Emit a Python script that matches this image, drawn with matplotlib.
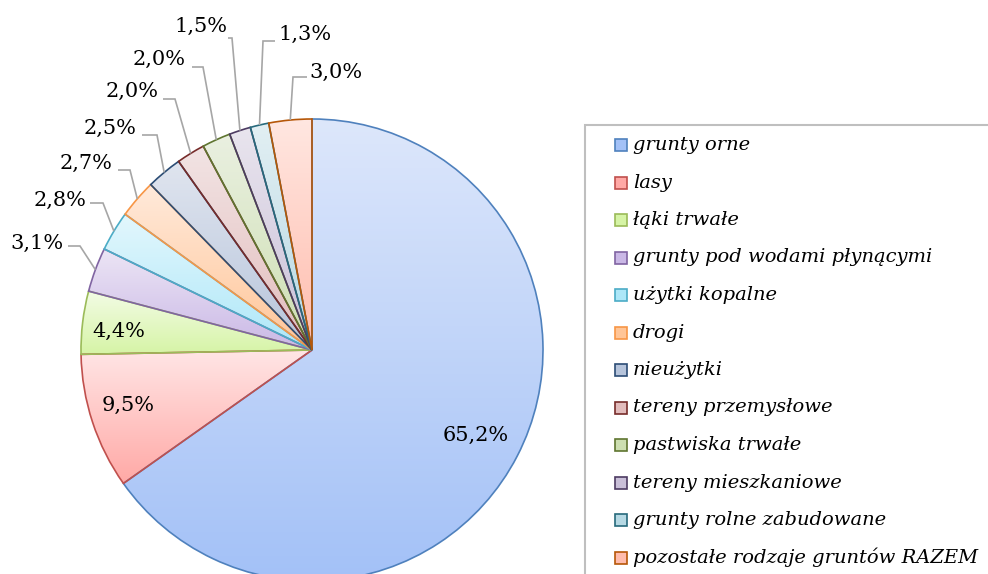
import numpy as np
import matplotlib
matplotlib.use("Agg")
import matplotlib.pyplot as plt
from matplotlib.colors import to_rgb
from matplotlib.patches import Rectangle

# ---------------- data ----------------
categories = ["grunty orne", "lasy", "łąki trwałe", "grunty pod wodami płynącymi",
              "użytki kopalne", "drogi", "nieużytki", "tereny przemysłowe",
              "pastwiska trwałe", "tereny mieszkaniowe", "grunty rolne zabudowane",
              "pozostałe rodzaje gruntów RAZEM"]
values = [65.2, 9.5, 4.4, 3.1, 2.8, 2.7, 2.5, 2.0, 2.0, 1.5, 1.3, 3.0]
value_labels = ["65,2%", "9,5%", "4,4%", "3,1%", "2,8%", "2,7%", "2,5%",
                "2,0%", "2,0%", "1,5%", "1,3%", "3,0%"]

# ---------------- styles ----------------
edge_colors = ["#4F81BD", "#C0504D", "#9BBB59", "#8064A2", "#4BACC6", "#F79646",
               "#2C4D75", "#772C2A", "#5F7530", "#4D3B62", "#276A7C", "#B65708"]
top_colors = ["#DDE7FB", "#FFE6E6", "#F3FCE6", "#ECE5F5", "#E3F7FD", "#FFEADB",
              "#E0E5EF", "#F2E4E4", "#EAF0E1", "#E9E5EE", "#E2EFF3", "#FFE7E1"]
bot_colors = ["#A3C1F7", "#FFA9A6", "#D6F4A6", "#CAB8E6", "#ADE7F8", "#FFC597",
              "#B6C4DB", "#E2BCBC", "#CDDFB1", "#C9BFD8", "#B6D9E4", "#FFBCAD"]

W, H = 988, 574
CX, CY, R = 312, 350, 231          # pie centre / radius in pixel coords (y down)

# label layout (pixel coords, y down)
inside_pos = {0: (476, 435), 1: (128, 405), 2: (119, 331)}
outside_pos = {3: ((37, 243), (80, 246), (68, 246)),
               4: ((60, 200), (103, 203), (90, 203)),
               5: ((86, 163), (130, 170), (118, 170)),
               6: ((110, 128), (157, 135), (142, 135)),
               7: ((132, 91), (175, 99), (163, 99)),
               8: ((159, 59), (203, 67), (192, 67)),
               9: ((201, 26), (232, 38), (228, 38)),
               10: ((305, 34), (263, 41), (275, 41)),
               11: ((336, 72), (293, 77), (307, 77))}

def P(x, y):
    return x, H - y

fig = plt.figure(figsize=(W / 100, H / 100), dpi=100)
ax = fig.add_axes([0, 0, 1, 1])

wedges, _ = ax.pie(values, startangle=90, counterclock=False, center=P(CX, CY),
                   radius=R, frame=True,
                   wedgeprops=dict(linewidth=1.2, facecolor="none"))
ax.set_xlim(0, W)
ax.set_ylim(0, H)
ax.set_aspect("equal")
ax.axis("off")

def grad_img(c_top, c_bot, n=256):
    t = np.linspace(0, 1, n)[:, None]
    a, b = np.array(to_rgb(c_top)), np.array(to_rgb(c_bot))
    return (a[None, :] * (1 - t) + b[None, :] * t)[:, None, :]

for i, w in enumerate(wedges):
    w.set_edgecolor(edge_colors[i])
    w.set_zorder(3)
    ext = w.get_path().get_extents()
    im = ax.imshow(grad_img(top_colors[i], bot_colors[i]),
                   extent=(ext.x0, ext.x1, ext.y0, ext.y1), origin="upper",
                   aspect="auto", interpolation="bilinear", zorder=2)
    im.set_clip_path(w)

ax.set_xlim(0, W)
ax.set_ylim(0, H)

lab_font = dict(family="DejaVu Serif", fontsize=15, color="black")

for i, (x, y) in inside_pos.items():
    ax.text(*P(x, y), value_labels[i], ha="center", va="center", zorder=5, **lab_font)

cum = np.cumsum([0] + values[:-1])
total = sum(values)
for i, (lab, elbow, end) in outside_pos.items():
    mid = (cum[i] + values[i] / 2) / total * 2 * np.pi
    ex = CX + R * np.sin(mid)
    ey = CY - R * np.cos(mid)
    xs = [ex, elbow[0], end[0]]
    ys = [ey, elbow[1], end[1]]
    ax.plot(xs, [H - v for v in ys], color="#A6A6A6", lw=1.2, zorder=4,
            solid_capstyle="butt", solid_joinstyle="miter")
    ax.text(*P(*lab), value_labels[i], ha="center", va="center", zorder=5, **lab_font)

# ---------------- legend ----------------
LX, LY = 585, 125
ax.add_patch(Rectangle(P(LX, H + 20), W + 20 - LX, H + 20 - LY, facecolor="white",
                       edgecolor="#BFBFBF", lw=1.5, zorder=6, clip_on=False))
row0, step = 145, 37.5
for i, name in enumerate(categories):
    yy = row0 + i * step
    ax.add_patch(Rectangle(P(615, yy + 6), 12, 12, facecolor=bot_colors[i],
                           edgecolor=edge_colors[i], lw=1.2, zorder=7))
    ax.text(*P(633, yy), name, ha="left", va="center", zorder=7,
            family="DejaVu Serif", style="italic", fontsize=14, color="black")

fig.savefig("out.png", dpi=100)
